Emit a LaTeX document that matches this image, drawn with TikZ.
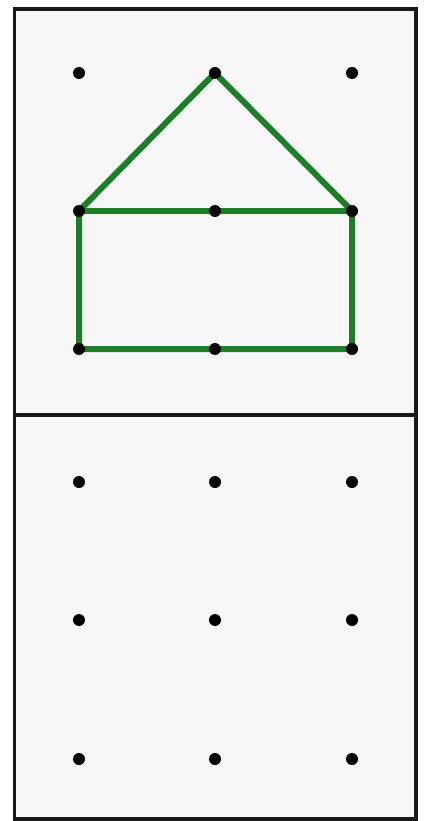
\documentclass[tikz,border=0pt]{standalone}
\begin{document}
\begin{tikzpicture}[x=1pt,y=-1pt,
  frame/.style={line width=3.5pt,draw=black!90},
  edge/.style={line width=6pt,draw=housegreen,line cap=round,line join=round},
  dot/.style={circle,fill=black,inner sep=0pt,minimum size=12pt}]
\definecolor{housegreen}{RGB}{30,125,40}
\useasboundingbox (0,0) rectangle (426,821);
\fill[white] (0,0) rectangle (426,821);
\fill[black!3] (14.5,9) rectangle (416,819);
% house
\coordinate (a1) at (79,73);
\coordinate (a2) at (215,73);
\coordinate (a3) at (352,73);
\coordinate (b1) at (79,211);
\coordinate (b2) at (215,211);
\coordinate (b3) at (352,211);
\coordinate (c1) at (79,349);
\coordinate (c2) at (215,349);
\coordinate (c3) at (352,349);
\draw[edge] (b1) -- (a2) -- (b3) -- (c3) -- (c1) -- cycle;
\draw[edge] (b1) -- (b3);
\foreach \n in {a1,a2,a3,b1,b2,b3,c1,c2,c3} \node[dot] (d\n) at (\n) {};
\foreach \x/\i in {79/1,215/2,352/3}
  \foreach \y/\j in {482/1,620/2,759/3}
    \node[dot] (e\i\j) at (\x,\y) {};
\draw[frame] (14.5,9) rectangle (416,819);
\draw[frame] (14.5,415) -- (416,415);
\end{tikzpicture}
\end{document}
